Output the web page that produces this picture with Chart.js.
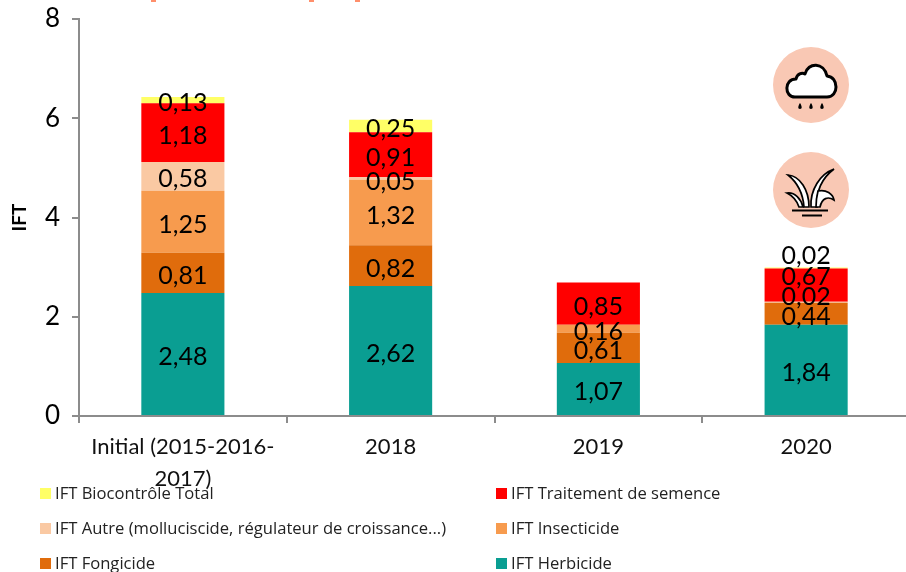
<!DOCTYPE html>
<html lang="fr">
<head>
  <meta charset="UTF-8" />
  <title>IFT</title>
  <script src="https://cdn.jsdelivr.net/npm/chart.js"></script>
  <style>
    html, body { margin: 0; padding: 0; background: #fff; overflow: hidden; width: 906px; height: 572px; }
    #wrap { position: relative; width: 906px; height: 572px; overflow: hidden; }
    canvas { position: absolute; left: 0; top: 0; }
    .legend-item { position: absolute; font: 16.6px "Open Sans", sans-serif; color: #222; white-space: nowrap; line-height: 18px; }
    .legend-item i { display: inline-block; width: 11px; height: 11px; margin-right: 4px; }
    .cut-title { position: absolute; top: 0; width: 5px; height: 2px; background: #ff8f6b; }
    svg { position: absolute; }
  </style>
</head>
<body>
  <div id="wrap">
    <canvas id="iftChart" width="920" height="572"></canvas>

    <!-- bottoms of the title letters, cut off at the top of the original image -->
    <div class="cut-title" style="left:151px"></div>
    <div class="cut-title" style="left:309px"></div>
    <div class="cut-title" style="left:355px"></div>

    <!-- Pictos -->
    <svg style="left:772px;top:46px" width="78" height="78" viewBox="0 0 78 78">
      <circle cx="39" cy="39" r="38" fill="#f9c8b4"/>
      <path d="M23 51 C12 51 12 33 24 33 C25 28 30 26 33 28 C36 16 52 16 55 30 C67 31 67 51 55 51 Z" fill="#fff" stroke="#000" stroke-width="3" stroke-linejoin="round"/>
      <path d="M28 57 C26 60 25.5 63 28 63 C30.5 63 30 60 28 57 Z M39 57 C37 60 36.5 63 39 63 C41.5 63 41 60 39 57 Z M50 57 C48 60 47.5 63 50 63 C52.5 63 52 60 50 57 Z" fill="#000"/>
    </svg>
    <svg style="left:772px;top:152px" width="78" height="78" viewBox="0 0 78 78">
      <circle cx="39" cy="38" r="38" fill="#f9c8b4"/>
      <g fill="#fff" stroke="#000" stroke-width="1.7">
        <path d="M16 23 C28 24 37 38 37 55 L32 55 C31 42 26 31 16 23 Z"/>
        <path d="M62 17 C48 22 38 38 39 55 L45 55 C44 38 50 26 62 17 Z"/>
        <path d="M15 41 C23 40 29 47 31 55 L27 55 C25 49 21 44 15 41 Z"/>
        <path d="M46 39 C54 37 61 42 62 48 C56 44 50 46 48 55 L44 55 C44 48 45 43 46 39 Z"/>
      </g>
      <path d="M20 58.5 H56 M30 63.5 H50" stroke="#000" stroke-width="2.2" fill="none"/>
    </svg>
  </div>

  <script>
    const categories = [["Initial (2015-2016-", "2017)"], "2018", "2019", "2020"];
    const yTicks = [0, 2, 4, 6, 8];

    const herbicide = [2.48, 2.62, 1.07, 1.84];
    const fongicide = [0.81, 0.82, 0.61, 0.44];
    const insecticide = [1.25, 1.32, 0.16, null];
    const autre = [0.58, 0.05, null, 0.02];
    const semence = [1.18, 0.91, 0.85, 0.67];
    const biocontrole = [0.13, 0.25, null, 0.02];

    const seriesNames = ["IFT Herbicide", "IFT Fongicide", "IFT Insecticide",
      "IFT Autre (molluciscide, régulateur de croissance...)", "IFT Traitement de semence", "IFT Biocontrôle Total"];
    const seriesValues = [herbicide, fongicide, insecticide, autre, semence, biocontrole];
    const seriesColors = ["#0a9e92", "#e06c0c", "#f79b4e", "#fac9a3", "#ff0000", "#ffff66"];

    // labels the original author dragged away from the segment centre (dataset, category, dy)
    const labelNudges = { "5:3": -15, "4:3": -11, "3:3": -8, "1:3": 0 };

    // Excel style comma labels in the middle of each segment
    const barLabels = {
      id: 'barLabels',
      afterDatasetsDraw(chart) {
        const ctx = chart.ctx;
        ctx.save();
        ctx.font = '25px Lato, sans-serif';
        ctx.fillStyle = '#000';
        ctx.textAlign = 'center';
        ctx.textBaseline = 'middle';
        chart.data.datasets.forEach((ds, i) => {
          chart.getDatasetMeta(i).data.forEach((bar, j) => {
            if (ds.data[j] == null) return;
            const y = (bar.y + bar.base) / 2 + (labelNudges[i + ':' + j] || 0);
            ctx.fillText(ds.data[j].toFixed(2).replace('.', ','), bar.x, y + 3);
          });
        });
        ctx.restore();
      }
    };

    new Chart(document.getElementById('iftChart'), {
      type: 'bar',
      data: {
        labels: categories,
        datasets: seriesNames.map((name, i) => ({
          label: name,
          data: seriesValues[i],
          backgroundColor: seriesColors[i],
          barPercentage: 0.4,
          categoryPercentage: 1
        }))
      },
      options: {
        responsive: false,
        animation: false,
        layout: { padding: { top: 19, right: 10 } },
        plugins: { legend: { display: false }, tooltip: { enabled: false } },
        scales: {
          x: {
            stacked: true,
            afterFit(scale) { scale.height = 156; scale.paddingLeft = 0; scale.paddingRight = 0; },
            border: { color: '#8c8c8c', width: 2 },
            grid: { drawOnChartArea: false, color: '#8c8c8c', lineWidth: 2, tickLength: 7 },
            ticks: { color: '#111', font: { family: 'Lato, sans-serif', size: 22, lineHeight: 1.45 }, padding: 8, maxRotation: 0, autoSkip: false }
          },
          y: {
            stacked: true,
            min: 0,
            max: 8,
            // no extra room for the tick labels, the plot area stays where the original has it
            afterFit(scale) { scale.width = 79; scale.paddingTop = 0; scale.paddingBottom = 0; },
            afterBuildTicks(scale) { scale.ticks = yTicks.map(v => ({ value: v })); },
            border: { color: '#8c8c8c', width: 2 },
            grid: { drawOnChartArea: false, color: '#8c8c8c', lineWidth: 2, tickLength: 7 },
            ticks: { color: '#000', font: { family: 'Lato, sans-serif', size: 26 }, padding: 12 },
            title: { display: true, text: 'IFT', color: '#000', font: { family: 'Lato, sans-serif', size: 19, weight: 'bold' }, padding: { top: 8, bottom: 0 } }
          }
        }
      },
      plugins: [barLabels]
    });

    // two column legend below the axis, top of the stack first
    const legendOrder = [5, 4, 3, 2, 1, 0];
    const wrap = document.getElementById('wrap');
    legendOrder.forEach((s, k) => {
      const item = document.createElement('div');
      item.className = 'legend-item';
      item.style.left = (k % 2 ? 496 : 40) + 'px';
      item.style.top = (484 + 35 * Math.floor(k / 2)) + 'px';
      item.innerHTML = '<i style="background:' + seriesColors[s] + '"></i>' + seriesNames[s];
      wrap.appendChild(item);
    });
  </script>
</body>
</html>
